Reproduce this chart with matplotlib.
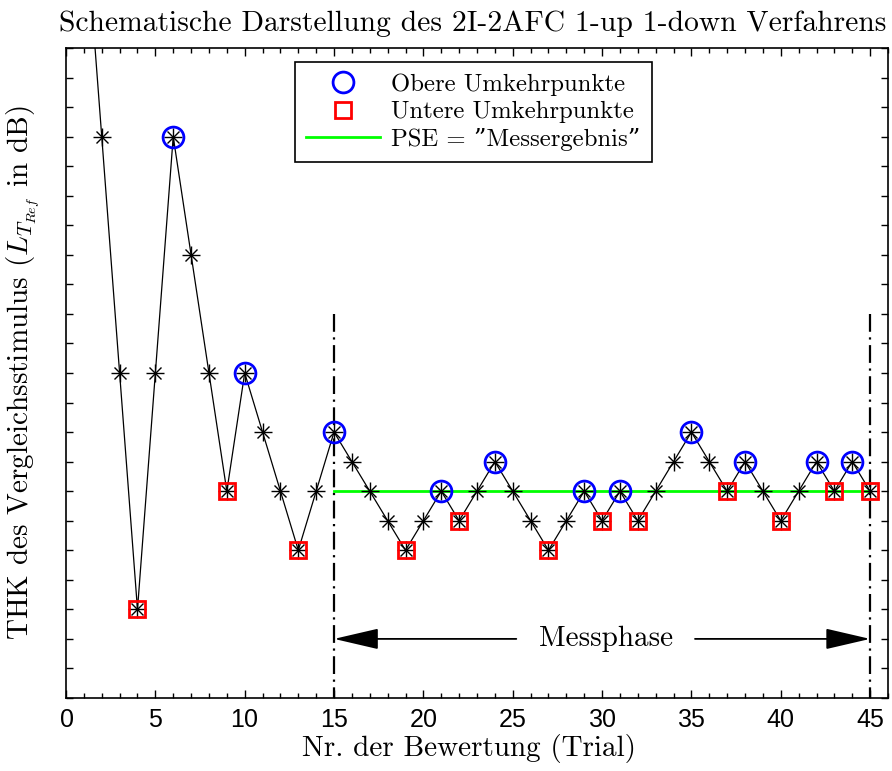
import matplotlib
matplotlib.use("Agg")
import matplotlib.pyplot as plt
import numpy as np
from matplotlib.ticker import MultipleLocator, NullFormatter

# Pegel je Bewertung (in dB relativ zum PSE)
trials = list(range(1, 46))
levels = [10, 6, 2, -2, 2, 6, 4, 2, 0, 2,
          1, 0, -1, 0, 1, 0.5, 0, -0.5, -1, -0.5,
          0, -0.5, 0, 0.5, 0, -0.5, -1, -0.5, 0, -0.5,
          0, -0.5, 0, 0.5, 1, 0.5, 0, 0.5, 0, -0.5,
          0, 0.5, 0, 0.5, 0]

# Umkehrpunkte (Trial-Nummern)
upper_rev = [6, 10, 15, 21, 24, 29, 31, 35, 38, 42, 44]
lower_rev = [4, 9, 13, 19, 22, 27, 30, 32, 37, 40, 43, 45]

pse_level = 0
phase_start, phase_end = 15, 45

serif = ['cmr10', 'DejaVu Serif']
plt.rcParams['mathtext.fontset'] = 'cm'
plt.rcParams['axes.formatter.use_mathtext'] = True

fig = plt.figure(figsize=(8.92, 7.71), dpi=100)
ax = fig.add_axes([0.074, 0.0947, 0.9215, 0.843])

lev = dict(zip(trials, levels))

ax.plot(trials, levels, color='k', lw=0.9, zorder=3)
ax.plot(trials, levels, ls='none', marker='+', ms=13, mew=1.0, color='k', zorder=4)
ax.plot(trials, levels, ls='none', marker='x', ms=9, mew=1.0, color='k', zorder=4)

ax.plot(upper_rev, [lev[t] for t in upper_rev], ls='none', marker='o', ms=15,
        mfc='none', mec='#0000ff', mew=2.0, zorder=5, label='Obere Umkehrpunkte')
ax.plot(lower_rev, [lev[t] for t in lower_rev], ls='none', marker='s', ms=12,
        mfc='none', mec='#ff0000', mew=2.0, zorder=5, label='Untere Umkehrpunkte')
ax.plot([phase_start, phase_end], [pse_level, pse_level], color='#00ff00', lw=2.0,
        zorder=2, label='PSE = \u201dMessergebnis\u201d')

# Grenzen der Messphase
for xv in (phase_start, phase_end):
    ax.plot([xv, xv], [3, -3.5], color='k', lw=1.6, ls=(0, (8, 2.5, 1, 2.5)),
            zorder=1, clip_on=False)

arrow_y = -2.5
ax.text(30.2, arrow_y, 'Messphase', family=serif, fontsize=21,
        ha='center', va='center')
head = dict(arrowstyle='-|>,head_length=28,head_width=6.5', mutation_scale=1,
            color='k', lw=1.3, shrinkA=0, shrinkB=0)
ax.annotate('', xy=(phase_start, arrow_y), xytext=(25.2, arrow_y), arrowprops=head)
ax.annotate('', xy=(phase_end, arrow_y), xytext=(35.2, arrow_y), arrowprops=head)

ax.set_xlim(0, 46)
ax.set_ylim(-3.5, 7.5)
ax.xaxis.set_major_locator(MultipleLocator(5))
ax.xaxis.set_minor_locator(MultipleLocator(1))
ax.yaxis.set_major_locator(MultipleLocator(0.5))
ax.yaxis.set_major_formatter(NullFormatter())
ax.tick_params(which='both', direction='in', top=True, right=True, width=1.0)
ax.tick_params(axis='x', which='major', length=6, labelsize=18, pad=7)
ax.tick_params(axis='x', which='minor', length=3.5)
ax.tick_params(axis='y', which='major', length=5)
for lab in ax.get_xticklabels():
    lab.set_family('Liberation Sans')
for sp in ax.spines.values():
    sp.set_linewidth(1.2)

ax.set_title('Schematische Darstellung des 2I-2AFC 1-up 1-down Verfahrens',
             family=serif, fontsize=21.3, pad=12, x=0.495)
ax.set_xlabel('Nr. der Bewertung (Trial)', family=serif, fontsize=21, labelpad=2,
              x=0.49)
ax.set_ylabel(r'THK des Vergleichsstimulus ($L_{T_{Ref}}$ in dB)', family=serif,
              fontsize=21, labelpad=14)

leg = ax.legend(loc='upper left', bbox_to_anchor=(0.2786, 0.978),
                prop={'family': serif, 'size': 17.8}, frameon=True, fancybox=False,
                edgecolor='k', framealpha=1, handlelength=3.0, borderpad=0.45,
                labelspacing=0.2, handletextpad=0.45, borderaxespad=0)
leg.get_frame().set_linewidth(1.2)

fig.savefig('out.png', dpi=100)
